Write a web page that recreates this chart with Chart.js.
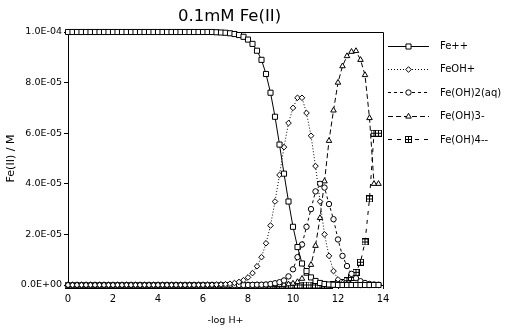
<!DOCTYPE html>
<html>
<head>
<meta charset="utf-8">
<title>0.1mM Fe(II)</title>
<script src="https://cdn.jsdelivr.net/npm/chart.js@4.4.1/dist/chart.umd.min.js"></script>
<style>
    html, body { margin: 0; padding: 0; background: #fff; }
    #speciation { display: block; }
</style>
</head>
<body>
<canvas id="speciation" width="520" height="330"></canvas>
<script>
// total Fe(II), the values below are fractions of it
const totalFe = 1e-4;

const ph = [0, 0.2, 0.4, 0.6, 0.8, 1, 1.2, 1.4, 1.6, 1.8,
    2, 2.2, 2.4, 2.6, 2.8, 3, 3.2, 3.4, 3.6, 3.8,
    4, 4.2, 4.4, 4.6, 4.8, 5, 5.2, 5.4, 5.6, 5.8,
    6, 6.2, 6.4, 6.6, 6.8, 7, 7.2, 7.4, 7.6, 7.8,
    8, 8.2, 8.4, 8.6, 8.8, 9, 9.2, 9.4, 9.6, 9.8,
    10, 10.2, 10.4, 10.6, 10.8, 11, 11.2, 11.4, 11.6, 11.8,
    12, 12.2, 12.4, 12.6, 12.8, 13, 13.2, 13.4, 13.6, 13.8];

const fe = [1, 1, 1, 1, 1, 1, 1, 1, 1, 1,
    1, 1, 1, 1, 1, 1, 1, 1, 1, 1,
    1, 1, 1, 1, 1, 1, 1, 1, 1, 1,
    1, 1, 1, 0.999, 0.998, 0.997, 0.995, 0.992, 0.988, 0.981,
    0.97, 0.953, 0.926, 0.89, 0.834, 0.76, 0.665, 0.555, 0.44, 0.33,
    0.23, 0.15, 0.085, 0.055, 0.03, 0.016, 0.008, 0.004, 0.002, 0.001,
    0, 0, 0, 0, 0, 0, 0, 0, 0, 0];

const feOH = [0, 0, 0, 0, 0, 0, 0, 0, 0, 0,
    0, 0, 0, 0, 0, 0, 0, 0, 0, 0,
    0, 0, 0, 0, 0, 0, 0, 0, 0.0001, 0.0002,
    0.0003, 0.0005, 0.0008, 0.0013, 0.002, 0.003, 0.005, 0.008, 0.012, 0.019,
    0.03, 0.047, 0.074, 0.11, 0.165, 0.235, 0.33, 0.435, 0.545, 0.64,
    0.70, 0.74, 0.74, 0.68, 0.59, 0.47, 0.33, 0.20, 0.115, 0.055,
    0.022, 0.008, 0.003, 0.001, 0, 0, 0, 0, 0, 0];

const feOH2 = [0, 0, 0, 0, 0, 0, 0, 0, 0, 0,
    0, 0, 0, 0, 0, 0, 0, 0, 0, 0,
    0, 0, 0, 0, 0, 0, 0, 0, 0, 0,
    0, 0, 0, 0, 0, 0, 0, 0, 0, 0,
    0, 0.0005, 0.001, 0.001, 0.002, 0.004, 0.007, 0.011, 0.018, 0.034,
    0.062, 0.11, 0.16, 0.23, 0.30, 0.37, 0.40, 0.385, 0.32, 0.26,
    0.18, 0.115, 0.075, 0.044, 0.027, 0.015, 0.008, 0.004, 0.002, 0.001];

const feOH3 = [0, 0, 0, 0, 0, 0, 0, 0, 0, 0,
    0, 0, 0, 0, 0, 0, 0, 0, 0, 0,
    0, 0, 0, 0, 0, 0, 0, 0, 0, 0,
    0, 0, 0, 0, 0, 0, 0, 0, 0, 0,
    0, 0, 0, 0, 0, 0, 0, 0, 0.001, 0.003,
    0.006, 0.012, 0.025, 0.045, 0.08, 0.155, 0.265, 0.41, 0.57, 0.69,
    0.80, 0.865, 0.905, 0.922, 0.925, 0.89, 0.83, 0.66, 0.40, 0.40];

const feOH4 = [0, 0, 0, 0, 0, 0, 0, 0, 0, 0,
    0, 0, 0, 0, 0, 0, 0, 0, 0, 0,
    0, 0, 0, 0, 0, 0, 0, 0, 0, 0,
    0, 0, 0, 0, 0, 0, 0, 0, 0, 0,
    0, 0, 0, 0, 0, 0, 0, 0, 0, 0,
    0, 0, 0, 0, 0, 0, 0, 0, 0, 0.002,
    0.004, 0.01, 0.017, 0.03, 0.05, 0.09, 0.17, 0.34, 0.60, 0.60];

const seriesNames = ["Fe++", "FeOH+", "Fe(OH)2(aq)", "Fe(OH)3-", "Fe(OH)4--"];
const chartTitle = "0.1mM Fe(II)";

const fontFamily = "'DejaVu Sans', 'Liberation Sans', sans-serif";

let chart = null;

// square with a plus inside, chart.js has no such marker
function boxPlus() {
    const c = document.createElement("canvas");
    c.width = 7;
    c.height = 7;
    const g = c.getContext("2d");
    g.fillStyle = "#fff";
    g.fillRect(0, 0, 7, 7);
    g.strokeStyle = "#000";
    g.lineWidth = 1;
    g.strokeRect(0.5, 0.5, 6, 6);
    g.beginPath();
    g.moveTo(3.5, 1);
    g.lineTo(3.5, 6);
    g.moveTo(1, 3.5);
    g.lineTo(6, 3.5);
    g.stroke();
    return c;
}

function sci(v) {
    if (Math.abs(v) < 1e-12) return "0.0E+00";
    const parts = v.toExponential(1).split("e");
    const n = parseInt(parts[1], 10);
    return parts[0] + "E" + (n < 0 ? "-" : "+") + String(Math.abs(n)).padStart(2, "0");
}

function points(values) {
    return values.map((v, i) => ({ x: ph[i], y: v * totalFe }));
}

// top and right edge of the plot box
const framePlugin = {
    id: "frame",
    beforeDatasetsDraw(c) {
        const a = c.chartArea;
        const ctx = c.ctx;
        ctx.save();
        ctx.strokeStyle = "#000";
        ctx.lineWidth = 1;
        ctx.beginPath();
        ctx.moveTo(Math.round(a.left) + 0.5, Math.round(a.top) + 0.5);
        ctx.lineTo(Math.round(a.right) + 0.5, Math.round(a.top) + 0.5);
        ctx.lineTo(Math.round(a.right) + 0.5, Math.round(a.bottom) + 0.5);
        ctx.stroke();
        ctx.restore();
    }
};

// title sits a bit right of the plot centre in the original
const titlePlugin = {
    id: "plotTitle",
    afterDraw(c) {
        const ctx = c.ctx;
        ctx.save();
        ctx.fillStyle = "#000";
        ctx.font = "16.5px " + fontFamily;
        ctx.textAlign = "center";
        ctx.textBaseline = "alphabetic";
        ctx.fillText(chartTitle, (c.chartArea.left + c.chartArea.right) / 2 + 4, 21);
        ctx.restore();
    }
};

// legend on the right: line sample with marker in the middle, then the name
const sideLegend = {
    id: "sideLegend",
    afterDraw(c) {
        const ctx = c.ctx;
        const x0 = c.chartArea.right + 5;
        c.data.datasets.forEach((ds, i) => {
            const y = 45.5 + i * 23.4;
            ctx.save();
            ctx.strokeStyle = "#000";
            ctx.lineWidth = 1;
            ctx.setLineDash(ds.borderDash || []);
            ctx.beginPath();
            ctx.moveTo(x0, Math.round(y) + 0.5);
            ctx.lineTo(x0 + 41, Math.round(y) + 0.5);
            ctx.stroke();
            ctx.setLineDash([]);
            ctx.fillStyle = "#fff";
            Chart.helpers.drawPoint(ctx, {
                pointStyle: ds.pointStyle,
                rotation: 0,
                radius: ds.pointRadius,
                borderWidth: 1
            }, x0 + 20.5, Math.round(y) + 0.5);
            ctx.fillStyle = "#000";
            ctx.font = "10px " + fontFamily;
            ctx.textBaseline = "middle";
            ctx.textAlign = "left";
            ctx.fillText(ds.label, x0 + 52, y + 1);
            ctx.restore();
        });
    }
};

document.addEventListener("DOMContentLoaded", function () {

    const styles = [
        { pointStyle: "rect", pointRadius: 3.6, borderDash: [] },
        { pointStyle: "rectRot", pointRadius: 2.8, borderDash: [1, 2] },
        { pointStyle: "circle", pointRadius: 2.7, borderDash: [3, 3] },
        { pointStyle: "triangle", pointRadius: 3.2, borderDash: [5, 3] },
        { pointStyle: boxPlus(), pointRadius: 3.5, borderDash: [4, 5] }
    ];
    const values = [fe, feOH, feOH2, feOH3, feOH4];

    const datasets = values.map((v, i) => ({
        label: seriesNames[i],
        data: points(v),
        borderColor: "#000",
        borderWidth: 1,
        borderDash: styles[i].borderDash,
        pointStyle: styles[i].pointStyle,
        pointRadius: styles[i].pointRadius,
        pointBorderWidth: 1,
        pointBorderColor: "#000",
        pointBackgroundColor: "#fff",
        tension: 0,
        fill: false,
        clip: false
    }));

    chart = new Chart("speciation", {
        type: "line",
        data: { datasets: datasets },
        options: {
            responsive: false,
            animation: false,
            devicePixelRatio: 1,
            layout: { padding: { left: 0, right: 137, top: 32, bottom: 0 } },
            plugins: {
                legend: { display: false },
                tooltip: { enabled: false },
                title: { display: false }
            },
            scales: {
                x: {
                    type: "linear",
                    min: 0,
                    max: 14,
                    afterFit: function (s) { s.height = 45; },
                    ticks: {
                        stepSize: 2,
                        color: "#000",
                        padding: 4,
                        maxRotation: 0,
                        font: { family: fontFamily, size: 10 }
                    },
                    grid: { display: true, drawOnChartArea: false, drawTicks: true, tickLength: 4, color: "#000" },
                    border: { display: true, color: "#000", width: 1 },
                    title: {
                        display: true,
                        text: "-log H+",
                        color: "#000",
                        font: { family: fontFamily, size: 9.5 },
                        padding: { top: 0, bottom: 4 }
                    }
                },
                y: {
                    min: 0,
                    max: 1e-4,
                    afterFit: function (s) { s.width = 68; },
                    ticks: {
                        stepSize: 2e-5,
                        color: "#000",
                        padding: 2,
                        font: { family: fontFamily, size: 9.5 },
                        callback: function (v) { return sci(v); }
                    },
                    grid: { display: true, drawOnChartArea: false, drawTicks: true, tickLength: 4, color: "#000" },
                    border: { display: true, color: "#000", width: 1 },
                    title: {
                        display: true,
                        text: "Fe(II) / M",
                        color: "#000",
                        font: { family: fontFamily, size: 11 },
                        padding: { top: 5, bottom: 0 }
                    }
                }
            }
        },
        plugins: [framePlugin, titlePlugin, sideLegend]
    });
});
</script>
</body>
</html>
